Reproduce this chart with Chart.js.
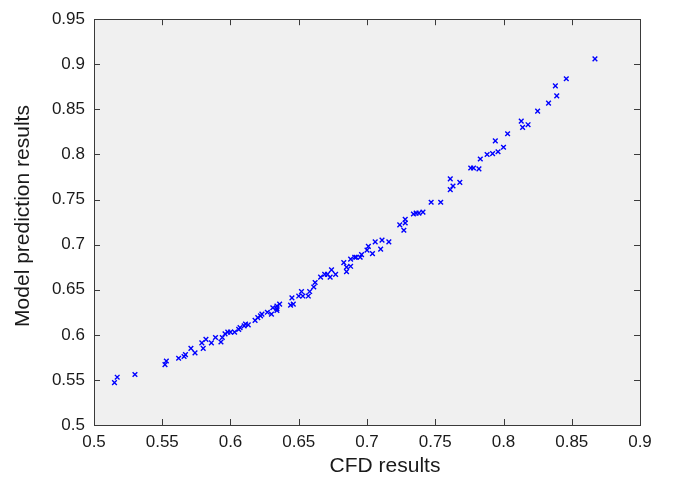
<!DOCTYPE html>
<html>
<head>
<meta charset="utf-8">
<script src="https://cdn.jsdelivr.net/npm/chart.js@4/dist/chart.umd.min.js"></script>
<style>
  html, body { margin: 0; padding: 0; background: #fff; }
  #wrap { width: 673px; height: 479px; }
</style>
</head>
<body>
<div id="wrap"><canvas id="graphic" width="673" height="479"></canvas></div>
<script>
// CFD results (x) vs model prediction results (y)
const cfd = [
  0.515, 0.517, 0.530, 0.552, 0.553, 0.562, 0.566, 0.567, 0.571, 0.574,
  0.579, 0.580, 0.582, 0.586, 0.589, 0.593, 0.594, 0.596, 0.598, 0.600,
  0.603, 0.606, 0.607, 0.610, 0.611, 0.613, 0.618, 0.620, 0.622, 0.623,
  0.627, 0.630, 0.631, 0.634, 0.636, 0.634, 0.634, 0.644, 0.646, 0.645,
  0.650, 0.652, 0.653, 0.657, 0.658, 0.661, 0.662, 0.666, 0.669, 0.671,
  0.674, 0.673, 0.677, 0.685, 0.685, 0.688, 0.683, 0.688, 0.691, 0.692,
  0.695, 0.696, 0.700, 0.701, 0.704, 0.706, 0.710, 0.711, 0.716, 0.724,
  0.727, 0.728, 0.728, 0.734, 0.736, 0.738, 0.741, 0.747, 0.754, 0.761,
  0.761, 0.763, 0.768, 0.776, 0.778, 0.782, 0.783, 0.788, 0.792, 0.796,
  0.794, 0.800, 0.803, 0.813, 0.814, 0.818, 0.825, 0.833, 0.839, 0.838,
  0.846, 0.867
];
const model = [
  0.547, 0.553, 0.556, 0.567, 0.571, 0.574, 0.576, 0.578, 0.585, 0.580,
  0.591, 0.585, 0.595, 0.591, 0.597, 0.592, 0.597, 0.601, 0.603, 0.603,
  0.603, 0.606, 0.608, 0.610, 0.612, 0.611, 0.616, 0.619, 0.621, 0.623,
  0.625, 0.623, 0.630, 0.632, 0.634, 0.627, 0.629, 0.633, 0.634, 0.641,
  0.643, 0.648, 0.643, 0.643, 0.648, 0.653, 0.658, 0.664, 0.667, 0.667,
  0.672, 0.664, 0.667, 0.670, 0.675, 0.676, 0.680, 0.684, 0.686, 0.686,
  0.686, 0.689, 0.694, 0.698, 0.690, 0.703, 0.695, 0.705, 0.703, 0.722,
  0.716, 0.724, 0.728, 0.734, 0.735, 0.735, 0.736, 0.747, 0.747, 0.773,
  0.761, 0.765, 0.769, 0.785, 0.785, 0.784, 0.795, 0.800, 0.801, 0.803,
  0.815, 0.808, 0.823, 0.837, 0.830, 0.833, 0.848, 0.857, 0.865, 0.876,
  0.884, 0.906
];
const xTicks = [0.5, 0.55, 0.6, 0.65, 0.7, 0.75, 0.8, 0.85, 0.9];
const yTicks = [0.5, 0.55, 0.6, 0.65, 0.7, 0.75, 0.8, 0.85, 0.9, 0.95];
const xLabel = "CFD results";
const yLabel = "Model prediction results";

const points = cfd.map((x, i) => ({ x: x, y: model[i] }));
const fmt = v => Number(v.toFixed(2)).toString();
const frameColor = "#3a3a3a";
const fam = "Liberation Sans, Arial, sans-serif";

// grey plot area, inward tick marks on all four sides (matlab box), axis labels
const boxPlugin = {
  id: "box",
  beforeDatasetsDraw(chart) {
    const a = chart.chartArea, c = chart.ctx;
    c.save();
    c.fillStyle = "#f0f0f0";
    c.fillRect(a.left, a.top, a.right - a.left, a.bottom - a.top);
    c.restore();
  },
  afterDraw(chart) {
    const a = chart.chartArea, c = chart.ctx;
    const xs = chart.scales.x, ys = chart.scales.y;
    const len = 6;
    c.save();
    c.strokeStyle = frameColor;
    c.lineWidth = 1;
    c.beginPath();
    xTicks.forEach(t => {
      const px = Math.round(xs.getPixelForValue(t)) + 0.5;
      c.moveTo(px, a.bottom); c.lineTo(px, a.bottom - len);
      c.moveTo(px, a.top); c.lineTo(px, a.top + len);
    });
    yTicks.forEach(t => {
      const py = Math.round(ys.getPixelForValue(t)) + 0.5;
      c.moveTo(a.left, py); c.lineTo(a.left + len, py);
      c.moveTo(a.right, py); c.lineTo(a.right - len, py);
    });
    c.stroke();
    c.strokeRect(Math.round(a.left) + 0.5, Math.round(a.top) + 0.5,
      Math.round(a.right - a.left), Math.round(a.bottom - a.top));

    // axis labels, placed like the original figure (a bit off centre)
    c.fillStyle = "#1a1a1a";
    c.font = "21px " + fam;
    c.textAlign = "center";
    c.textBaseline = "middle";
    c.fillText(xLabel, 385, 466);
    c.translate(23, 216);
    c.rotate(-Math.PI / 2);
    c.fillText(yLabel, 0, 0);
    c.restore();
  }
};

const ctx = document.getElementById("graphic").getContext("2d");
const chart = new Chart(ctx, {
  type: "scatter",
  data: {
    datasets: [{
      label: "Model vs CFD",
      data: points,
      pointStyle: "crossRot",
      pointRadius: 3.3,
      pointBorderWidth: 1.4,
      borderColor: "#0000ff",
      backgroundColor: "#0000ff",
    }],
  },
  options: {
    responsive: false,
    animation: false,
    layout: { padding: { left: 0, right: 33, top: 17, bottom: 0 } },
    plugins: { legend: { display: false }, tooltip: { enabled: false } },
    scales: {
      x: {
        type: "linear",
        min: 0.5, max: 0.9,
        afterFit: s => { s.height = 54; },
        afterBuildTicks: s => { s.ticks = xTicks.map(v => ({ value: v })); },
        grid: { display: false, drawTicks: false },
        border: { display: false },
        ticks: {
          padding: 7,
          color: "#1a1a1a",
          font: { family: fam, size: 17 },
          callback: v => fmt(v),
        },
        title: { display: false, text: xLabel },
      },
      y: {
        type: "linear",
        min: 0.5, max: 0.95,
        afterFit: s => { s.width = 94; },
        afterBuildTicks: s => { s.ticks = yTicks.map(v => ({ value: v })); },
        grid: { display: false, drawTicks: false },
        border: { display: false },
        ticks: {
          padding: 9,
          color: "#1a1a1a",
          font: { family: fam, size: 17 },
          callback: v => fmt(v),
        },
        title: { display: false, text: yLabel },
      },
    },
  },
  plugins: [boxPlugin],
});
</script>
</body>
</html>
